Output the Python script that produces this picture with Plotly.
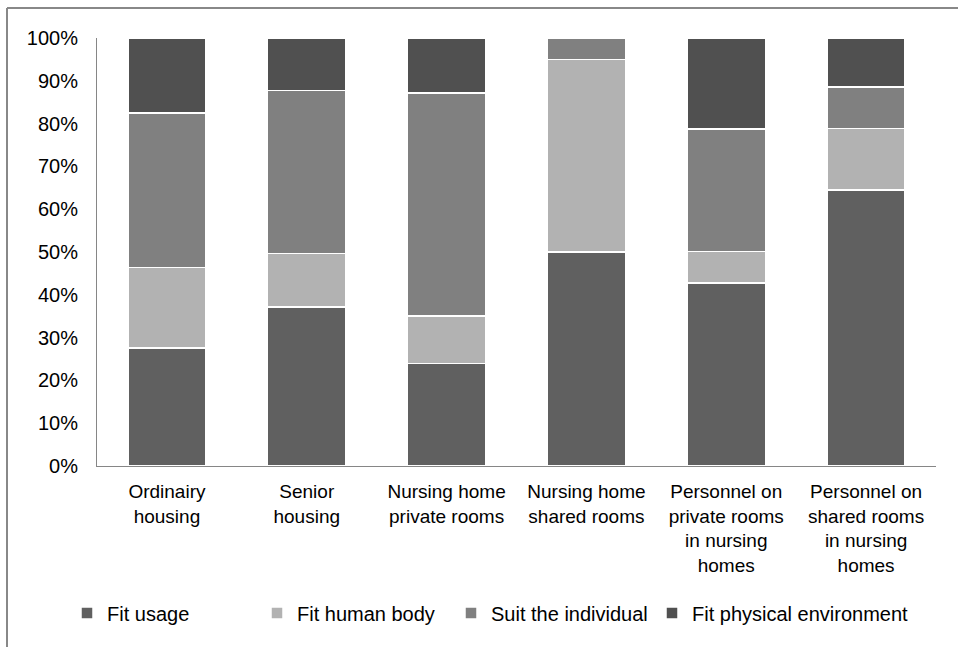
import plotly.graph_objects as go

categories = ["Ordinairy<br>housing", "Senior<br>housing", "Nursing home<br>private rooms",
              "Nursing home<br>shared rooms", "Personnel on<br>private rooms<br>in nursing<br>homes",
              "Personnel on<br>shared rooms<br>in nursing<br>homes"]
fit_usage = [27.6, 37.1, 23.9, 50.0, 42.8, 64.5]
fit_human_body = [18.8, 12.6, 11.1, 45.0, 7.3, 14.4]
suit_individual = [36.1, 38.0, 52.1, 5.0, 28.6, 9.7]
fit_environment = [17.5, 12.3, 12.9, 0.0, 21.3, 11.4]

series = [
    ("Fit usage", fit_usage, "#606060"),
    ("Fit human body", fit_human_body, "#b2b2b2"),
    ("Suit the individual", suit_individual, "#808080"),
    ("Fit physical environment", fit_environment, "#505050"),
]

FONT = "Liberation Sans, Arial, sans-serif"
W, H = 958, 647
L, R, T, B = 97, 22, 38, 181
pw, ph = W - L - R, H - T - B

def px2x(px):
    return (px - L) / pw

def py2y(py):
    return (H - B - py) / ph

legend_ids = ["legend", "legend2", "legend3", "legend4"]
legend_left_px = [67, 257, 451, 652]

fig = go.Figure()
for (name, vals, col), lid in zip(series, legend_ids):
    fig.add_trace(go.Bar(x=categories, y=vals, name=name, legend=lid,
                         marker=dict(color=col, line=dict(color="white", width=1.5))))

legend_layouts = {}
for lid, lx in zip(legend_ids, legend_left_px):
    legend_layouts[lid] = dict(orientation="h", x=px2x(lx), xanchor="left", y=py2y(613),
                               yanchor="middle", font=dict(size=20), bgcolor="rgba(0,0,0,0)")

fig.update_layout(
    width=W, height=H,
    margin=dict(l=L, r=R, t=T, b=B, autoexpand=False),
    barmode="stack", bargap=0.44,
    paper_bgcolor="white", plot_bgcolor="white",
    font=dict(family=FONT, size=20, color="#000000"),
    showlegend=True,
    xaxis=dict(showline=True, linecolor="#868686", linewidth=1, ticks="",
               tickfont=dict(size=19), showgrid=False, fixedrange=True, ticklabelstandoff=8),
    yaxis=dict(range=[0, 100], dtick=10, ticksuffix="%", showline=True, linecolor="#868686",
               linewidth=1, ticks="", showgrid=False, zeroline=False, fixedrange=True,
               tickfont=dict(size=20), ticklabelstandoff=14),
    shapes=[
        dict(type="line", xref="paper", yref="paper", x0=px2x(7), x1=px2x(1000),
             y0=py2y(8), y1=py2y(8), line=dict(color="#888888", width=2)),
        dict(type="line", xref="paper", yref="paper", x0=px2x(7), x1=px2x(7),
             y0=py2y(8), y1=py2y(700), line=dict(color="#888888", width=2)),
    ],
    **legend_layouts,
)

fig.write_html("out.html", config={"displayModeBar": False},
               post_script="document.body.style.margin='0';")
